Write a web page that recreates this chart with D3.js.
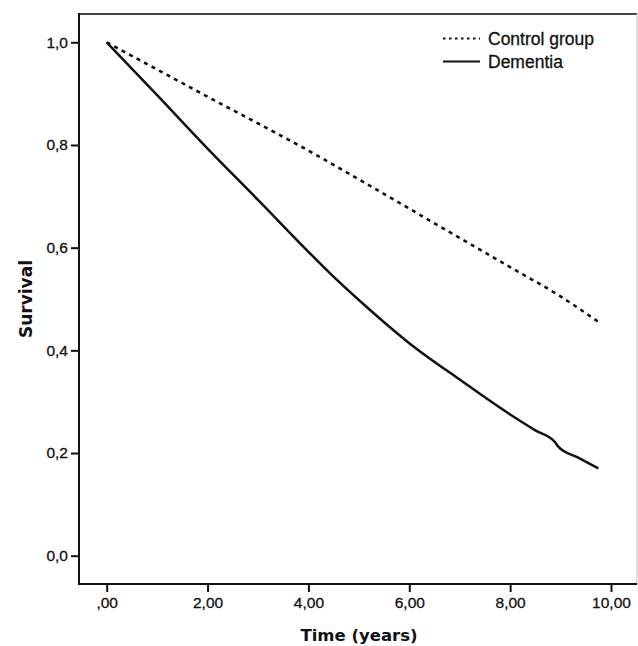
<!DOCTYPE html>
<html>
<head>
<meta charset="utf-8">
<script src="https://cdn.jsdelivr.net/npm/d3@7"></script>
<style>
  body { margin: 0; background: #fff; }
  text { font-family: "Liberation Sans", Arial, sans-serif; fill: #111; }
</style>
</head>
<body>
<svg id="chart"></svg>
<script>
var width = 638;
var height = 646;

// data
var controlTime = [0, 1, 2, 3, 4, 5, 6, 7, 8, 9, 9.77];
var controlSurv = [1.0, 0.947, 0.894, 0.842, 0.789, 0.733, 0.676, 0.619, 0.562, 0.505, 0.454];

var dementiaTime = [0, 1, 2, 3, 4, 4.43, 5, 6, 7, 8, 8.5, 8.9, 8.95, 9.35, 9.75];
var dementiaSurv = [1.0, 0.897, 0.793, 0.693, 0.592, 0.550, 0.498, 0.414, 0.343, 0.275, 0.244, 0.220, 0.213, 0.191, 0.170];

var xTicks = [0, 2, 4, 6, 8, 10];
var xTickLabels = [",00", "2,00", "4,00", "6,00", "8,00", "10,00"];
var yTicks = [0, 0.2, 0.4, 0.6, 0.8, 1.0];
var yTickLabels = ["0,0", "0,2", "0,4", "0,6", "0,8", "1,0"];

var legendNames = ["Control group", "Dementia"];

// frame
var frameLeft = 79, frameRight = 637, frameTop = 14, frameBottom = 584;

var svg = d3.select("#chart")
  .attr("width", width)
  .attr("height", height);

var x = d3.scaleLinear().domain([0, 10]).range([106.7, 611]);
var y = d3.scaleLinear().domain([0, 1]).range([555.7, 42.3]);

// top and right border
svg.append("line")
  .attr("x1", frameLeft).attr("x2", frameRight)
  .attr("y1", frameTop).attr("y2", frameTop)
  .attr("stroke", "#444").attr("stroke-width", 2);
svg.append("line")
  .attr("x1", frameRight).attr("x2", frameRight)
  .attr("y1", frameTop).attr("y2", frameBottom)
  .attr("stroke", "#ccc").attr("stroke-width", 1.2);

// axes
var yAxis = d3.axisLeft(y)
  .tickValues(yTicks)
  .tickSize(8)
  .tickSizeOuter(0)
  .tickPadding(3)
  .tickFormat(function(d, i) { return yTickLabels[i]; });

var xAxis = d3.axisBottom(x)
  .tickValues(xTicks)
  .tickSize(8)
  .tickSizeOuter(0)
  .tickPadding(5)
  .tickFormat(function(d, i) { return xTickLabels[i]; });

var gy = svg.append("g")
  .attr("transform", "translate(" + frameLeft + ",0)")
  .call(yAxis);
var gx = svg.append("g")
  .attr("transform", "translate(0," + frameBottom + ")")
  .call(xAxis);

[gx, gy].forEach(function(g) {
  g.select(".domain").remove();
  g.selectAll(".tick line").attr("stroke", "#111").attr("stroke-width", 2);
  g.selectAll(".tick text")
    .style("font-family", "'Liberation Sans', Arial, sans-serif")
    .style("font-size", "15.5px")
    .attr("fill", "#111")
    .attr("stroke", "#111")
    .attr("stroke-width", 0.3);
});

// left and bottom axis lines
svg.append("line")
  .attr("x1", frameLeft).attr("x2", frameLeft)
  .attr("y1", frameTop - 1).attr("y2", frameBottom + 1)
  .attr("stroke", "#111").attr("stroke-width", 2);
svg.append("line")
  .attr("x1", frameLeft - 1).attr("x2", frameRight)
  .attr("y1", frameBottom).attr("y2", frameBottom)
  .attr("stroke", "#111").attr("stroke-width", 2);

// axis titles
svg.append("text")
  .attr("x", 359)
  .attr("y", 641)
  .attr("text-anchor", "middle")
  .style("font-family", "'DejaVu Sans', Verdana, sans-serif")
  .style("font-weight", "bold")
  .style("font-size", "16.5px")
  .text("Time (years)");

svg.append("text")
  .attr("transform", "translate(32,299) rotate(-90)")
  .attr("text-anchor", "middle")
  .style("font-family", "'DejaVu Sans', Verdana, sans-serif")
  .style("font-weight", "bold")
  .style("font-size", "17px")
  .text("Survival");

// curves
var line = d3.line()
  .x(function(d) { return x(d[0]); })
  .y(function(d) { return y(d[1]); })
  .curve(d3.curveMonotoneX);

var controlData = controlTime.map(function(t, i) { return [t, controlSurv[i]]; });
var dementiaData = dementiaTime.map(function(t, i) { return [t, dementiaSurv[i]]; });

svg.append("path")
  .datum(controlData)
  .attr("d", line)
  .attr("fill", "none")
  .attr("stroke", "#111")
  .attr("stroke-width", 2.6)
  .attr("stroke-dasharray", "4,4.5");

svg.append("path")
  .datum(dementiaData)
  .attr("d", line)
  .attr("fill", "none")
  .attr("stroke", "#111")
  .attr("stroke-width", 2.5);

// legend
var legend = svg.append("g");
var rowY = [38.5, 61.5];
var dashes = ["2.5,3.5", null];

legendNames.forEach(function(name, i) {
  legend.append("line")
    .attr("x1", 443).attr("x2", 480)
    .attr("y1", rowY[i]).attr("y2", rowY[i])
    .attr("stroke", "#111")
    .attr("stroke-width", i === 0 ? 2 : 2.2)
    .attr("stroke-dasharray", dashes[i]);
  legend.append("text")
    .attr("x", 488)
    .attr("y", rowY[i])
    .attr("dy", "0.36em")
    .attr("stroke", "#111")
    .attr("stroke-width", 0.3)
    .style("font-size", "17.5px")
    .text(name);
});
</script>
</body>
</html>
